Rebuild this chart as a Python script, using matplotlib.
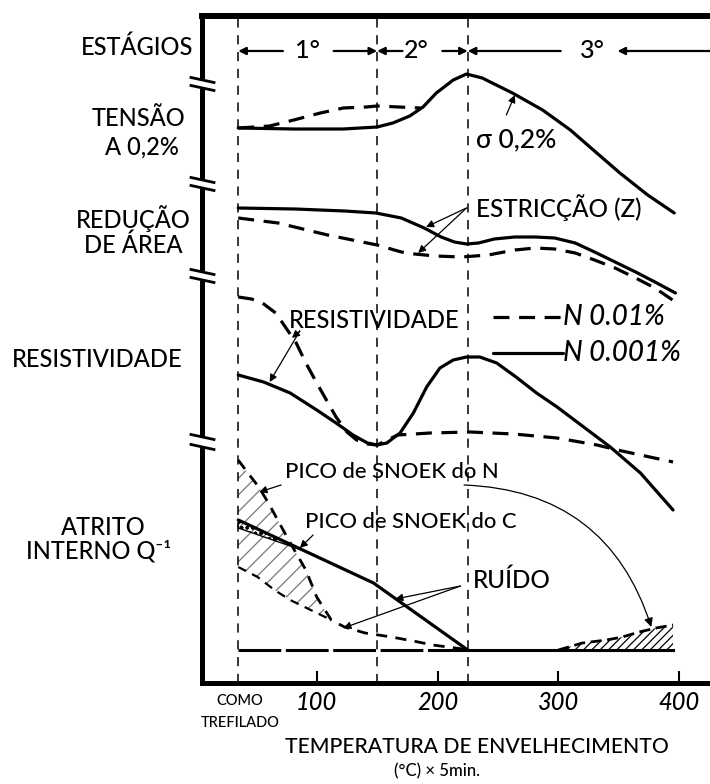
import matplotlib

matplotlib.use("Agg")
import matplotlib.pyplot as plt
import matplotlib.transforms as mtransforms
import numpy as np

plt.rcParams["font.family"] = ["Lato", "DejaVu Sans"]
plt.rcParams["font.weight"] = "medium"
plt.rcParams["hatch.linewidth"] = 0.9

# x: ageing temperature (deg C), "como trefilado" drawn at ~35
# y: schematic height of each property (arbitrary units, panels stacked)
STAGE_EDGES = [35, 150, 225]
STAGE_NAMES = ["1°", "2°", "3°"]
STAGE_LABEL_T = [92, 182, 328]
XTICKS = [100, 200, 300, 400]

TENSAO_T = [35, 81, 122, 150, 163, 177, 188, 199, 213, 224, 237, 262, 287, 310, 329, 351, 374, 396]
TENSAO_H = [555, 554, 554, 556, 560, 567, 576, 590, 603, 609, 605, 590, 573, 553, 533, 510, 488, 470]
TENSAO_N_T = [35, 61, 81, 103, 122, 141, 150, 186]
TENSAO_N_H = [555, 557, 563, 570, 575, 576, 577, 575]

RED_T = [35, 82, 123, 149, 170, 189, 203, 214, 224, 234, 247, 264, 281, 297, 314, 330, 347, 364, 380, 397]
RED_H = [475, 474, 472, 470, 465, 455, 446, 441, 439, 440, 444, 446, 446, 445, 440, 431, 421, 411, 401, 390]
RED_N_T = [35, 68, 109, 150, 170, 181, 198, 220, 242, 264, 281, 297, 314, 330, 347, 364, 380, 397]
RED_N_H = [465, 460, 448, 438, 431, 429, 427, 426, 428, 433, 435, 434, 430, 423, 415, 405, 395, 381]

RES_T = [35, 56, 78, 100, 116, 130, 142, 150, 158, 169, 180, 191, 202, 213, 224, 235, 249, 265, 282,
         299, 321, 343, 368, 395]
RES_H = [308, 301, 290, 273, 260, 248, 240, 238, 240, 250, 270, 296, 315, 323, 326, 326, 320, 306, 290,
         276, 256, 236, 210, 173]
RES_N_T = [35, 46, 55, 66, 74, 83, 91, 100, 108, 116, 125, 133, 142, 150, 167, 194, 227, 263, 299, 332,
           349, 368, 395]
RES_N_H = [386, 384, 380, 370, 356, 340, 320, 300, 283, 266, 251, 243, 239, 238, 248, 250, 251, 249, 245,
           238, 233, 228, 221]

# internal friction
SNOEK_N_T = [35, 43, 52, 60, 69, 80, 91, 100, 112, 123, 140, 162, 184, 196, 221, 225]
SNOEK_N_H = [223, 210, 196, 180, 160, 136, 113, 86, 63, 56, 50, 46, 41, 38, 34, 33]
SNOEK_N_LOW_T = [35, 51, 65, 78, 95, 112]
SNOEK_N_LOW_H = [116, 106, 93, 83, 73, 63]
SNOEK_C_T = [35, 147, 225]
SNOEK_C_H = [163, 100, 33]
SNOEK_C_BAND_T = [35, 90, 35]
SNOEK_C_BAND_H = [163, 132, 155]
BASE_T = [35, 225, 395]
BASE_H = 33
BUMP_T = [300, 320, 340, 353, 367, 381, 395]
BUMP_H = [33, 40, 43, 46, 51, 55, 58]

W, H = 710, 784
fig = plt.figure(figsize=(W / 100, H / 100), dpi=100)
ax = fig.add_axes([202 / W, (H - 683) / H, (W - 202) / W, (683 - 16) / H])
X0, X1 = 5.0, 425.6
ax.set_xlim(X0, X1)
ax.set_ylim(0, 667)
for s in ("left", "right"):
    ax.spines[s].set_visible(False)
ax.spines["top"].set_linewidth(4.3)
ax.spines["bottom"].set_linewidth(3.6)
ax.set_yticks([])
ax.set_xticks(XTICKS)
ax.set_xticklabels([str(t) for t in XTICKS], fontstyle="italic", fontsize=17)
ax.tick_params(axis="x", direction="in", length=9, width=1.5, pad=6)

# broken left axis
px = (X1 - X0) / (W - 202)
trans = mtransforms.blended_transform_factory(ax.transAxes, ax.transData)
segs = [(667, 603), (595, 503), (495, 411), (403, 246), (236, 0)]
for top, bot in segs:
    ax.plot([0, 0], [top, bot], transform=trans, color="k", lw=3.6,
            solid_capstyle="butt", clip_on=False)
for hb in [603, 595, 503, 495, 411, 403, 246, 236]:
    ax.plot([X0 - 11 * px, X0 + 12 * px], [hb + 2.5, hb - 2.5], color="k", lw=2, clip_on=False)

for t in STAGE_EDGES:
    ax.plot([t, t], [0, 665], color="k", lw=1.1, dashes=(6, 5))

# stages row
ys = 632
arrows = [(72, 35), (114, 150), (171, 150), (204, 225), (302, 225), (432, 349)]
for tail, head in arrows:
    ax.annotate("", xy=(head, ys), xytext=(tail, ys), annotation_clip=False,
                arrowprops=dict(arrowstyle="-|>", lw=1.6, color="k", mutation_scale=11,
                                shrinkA=0, shrinkB=0))
for name, t in zip(STAGE_NAMES, STAGE_LABEL_T):
    ax.text(t, ys, name, ha="center", va="center", fontsize=18)

solid = dict(color="k", lw=2.3, solid_joinstyle="round", solid_capstyle="round")
dashed = dict(color="k", lw=2.3, dashes=(5, 3))

ax.plot(TENSAO_T, TENSAO_H, **solid)
ax.plot(TENSAO_N_T, TENSAO_N_H, **dashed)
ax.plot(RED_T, RED_H, **solid)
ax.plot(RED_N_T, RED_N_H, **dashed)
ax.plot(RES_T, RES_H, **solid)
ax.plot(RES_N_T, RES_N_H, **dashed)

# internal friction panel
nt = np.array(SNOEK_N_T)
nh = np.array(SNOEK_N_H)
keep = nt <= 112
ax.fill(np.r_[nt[keep], SNOEK_N_LOW_T[::-1]], np.r_[nh[keep], SNOEK_N_LOW_H[::-1]],
        fill=False, hatch="//", edgecolor="#777777", lw=0)
ax.plot(SNOEK_N_T, SNOEK_N_H, color="k", lw=2.0, dashes=(4, 3))
ax.plot(SNOEK_N_LOW_T, SNOEK_N_LOW_H, color="k", lw=1.6, dashes=(4, 3))
ax.fill(SNOEK_C_BAND_T, SNOEK_C_BAND_H, fill=False, hatch="ooo", edgecolor="k", lw=1.0)
ax.plot(SNOEK_C_T, SNOEK_C_H, **solid)
ax.plot(BASE_T[:2], [BASE_H] * 2, color="k", lw=2.2, dashes=(14, 1.5))
ax.plot(BASE_T[1:], [BASE_H] * 2, color="k", lw=2.2)
ax.fill_between(BUMP_T, BASE_H, BUMP_H, facecolor="none", edgecolor="k", hatch="////", lw=0)
ax.plot(BUMP_T, BUMP_H, color="k", lw=2.0, dashes=(4, 2))

arr = dict(arrowstyle="-|>", lw=0.9, color="k", mutation_scale=11, shrinkA=0, shrinkB=0)

ax.text(232, 543, "σ 0,2%", ha="left", va="center", fontsize=19)
ax.annotate("", xy=(264, 588), xytext=(257, 568), arrowprops=arr)

ax.text(232, 475, "ESTRICÇÃO (Z)", ha="left", va="center", fontsize=17.5)
for xy in [(190.5, 456), (184, 430)]:
    ax.annotate("", xy=xy, xytext=(224, 475), arrowprops=arr)

ax.text(77, 363, "RESISTIVIDADE", ha="left", va="center", fontsize=17)
for xy in [(79.5, 345), (61, 301)]:
    ax.annotate("", xy=xy, xytext=(86, 352), arrowprops=arr)

ax.plot([246, 302], [366, 366], **dashed)
ax.text(303.5, 366, "N 0.01%", ha="left", va="center", fontsize=20, fontstyle="italic")
ax.plot([246, 303.5], [330, 330], **solid)
ax.text(304, 330, "N 0.001%", ha="left", va="center", fontsize=20, fontstyle="italic")

ax.text(73.5, 211, "PICO de SNOEK do N", ha="left", va="center", fontsize=15.8)
ax.annotate("", xy=(52.5, 191), xytext=(70.5, 198), arrowprops=arr)
ax.text(90.5, 161, "PICO de SNOEK do C", ha="left", va="center", fontsize=15.8)
ax.annotate("", xy=(86, 135), xytext=(97, 148), arrowprops=arr)

ax.text(229, 103, "RUÍDO", ha="left", va="center", fontsize=17.5)
for xy in [(165, 84), (122, 55)]:
    ax.annotate("", xy=xy, xytext=(219, 97), arrowprops=arr)

ax.annotate("", xy=(377, 56), xytext=(222, 198),
            arrowprops=dict(arrowstyle="-|>", lw=0.9, color="k", mutation_scale=13,
                            shrinkA=0, shrinkB=0, connectionstyle="arc3,rad=-0.35"))

# x-axis texts
ax.text(36, -18, "COMO", ha="center", va="center", fontsize=10.5, clip_on=False)
ax.text(37, -40, "TREFILADO", ha="center", va="center", fontsize=10.5, clip_on=False)
ax.text(232.7, -64, "TEMPERATURA DE ENVELHECIMENTO", ha="center", va="center",
        fontsize=15.2, clip_on=False)
ax.text(199.6, -88, "(°C) × 5min.", ha="center", va="center", fontsize=12, clip_on=False)

# left row labels
left_labels = [
    ("ESTÁGIOS", 137.5, 55),
    ("TENSÃO", 139, 126.5),
    ("A 0,2%", 142, 155),
    ("REDUÇÃO", 133.3, 228),
    ("DE ÁREA", 133, 253),
    ("RESISTIVIDADE", 97.5, 366.5),
    ("ATRITO", 103.5, 535),
    ("INTERNO Q⁻¹", 99, 559),
]
for txt, x, y in left_labels:
    fig.text(x / W, 1 - y / H, txt, ha="center", va="baseline", fontsize=17)

fig.savefig("out.png", dpi=100)
